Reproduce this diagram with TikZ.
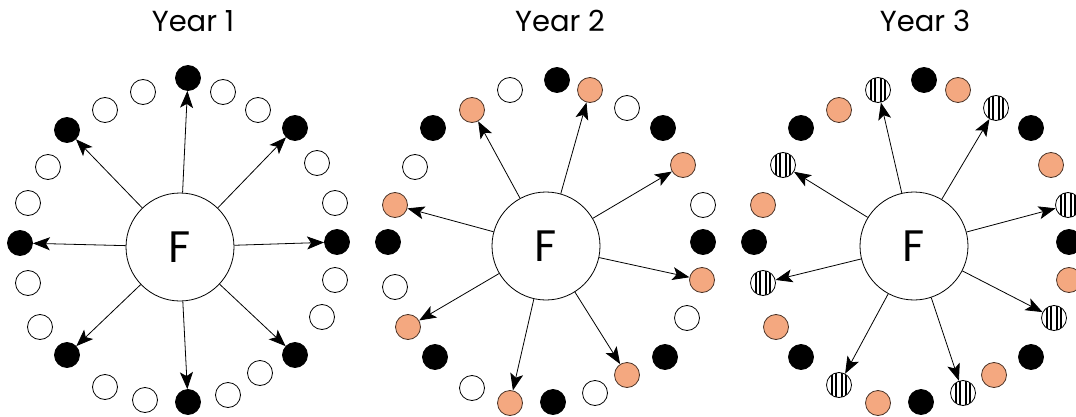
\documentclass[tikz,border=0pt]{standalone}
\usepackage{fontspec}
\setmainfont{Poppins}
\usetikzlibrary{arrows.meta}
\definecolor{salmon}{RGB}{244,168,128}
\tikzset{
  opencirc/.style={circle, draw=black, line width=0.8pt, fill=white, minimum size=25pt, inner sep=0pt},
  blkcirc/.style={opencirc, fill=black},
  orgcirc/.style={opencirc, fill=salmon, draw=black!70!salmon},
  strcirc/.style={opencirc, path picture={
      \foreach \d in {-7,-3,3,7}
        \draw[line width=1.5pt] ([xshift=\d pt]path picture bounding box.north) -- ([xshift=\d pt]path picture bounding box.south);}},
  fcirc/.style={circle, draw=black, line width=0.8pt, fill=white, minimum size=108pt, inner sep=0pt, font=\fontsize{44}{44}\selectfont},
  arr/.style={draw=black, line width=0.8pt, -{Stealth[length=17pt,width=13pt,inset=4pt]}},
  title/.style={font=\fontsize{29}{29}\selectfont, anchor=base}
}
\begin{document}
\begin{tikzpicture}[x=1pt,y=-1pt]
\useasboundingbox (0,0) rectangle (1076,417);
\clip (0,0) rectangle (1076,417);
\fill[white] (0,0) rectangle (1076,417);

\node[title] (t1) at (193,32) {Year 1};
\node[title] (t2) at (560,32) {Year 2};
\node[title] (t3) at (925,32) {Year 3};

% Panel 1
\node[fcirc] (F1) at (180,247) {F};
\foreach \n/\x/\y/\s in {1/188/78/blk,2/223/92/open,3/258/110/open,4/295/128/blk,5/317/163/open,6/335/203/open,7/337/242/blk,8/335/280/open,9/322/317/open,10/295/355/blk,11/260/373/open,12/228/395/open,13/188/402/blk,14/145/400/open,15/105/387/open,16/67/355/blk,17/40/327/open,18/28/283/open,19/20/243/blk,20/28/203/open,21/48/167/open,22/67/130/blk,23/105/110/open,24/143/92/open}
  \node[\s circ] (a\n) at (\x,\y) {};
\foreach \n in {1,4,7,10,13,16,19,22}
  \draw[arr] (F1) -- (a\n);

% Panel 2
\node[fcirc] (F2) at (546,246) {F};
\foreach \n/\x/\y/\s in {1/557/80/blk,2/590/90/org,3/627/108/open,4/663/128/blk,5/683/165/org,6/703/205/open,7/703/242/blk,8/702/280/org,9/687/318/open,10/665/357/blk,11/627/375/org,12/595/393/open,13/553/402/blk,14/510/403/org,15/472/388/open,16/435/357/blk,17/408/327/org,18/395/287/open,19/388/242/blk,20/395/205/org,21/415/167/open,22/433/128/blk,23/472/110/org,24/510/90/open}
  \node[\s circ] (b\n) at (\x,\y) {};
\foreach \n in {2,5,8,11,14,17,20,23}
  \draw[arr] (F2) -- (b\n);

% Panel 3
\node[fcirc] (F3) at (914,246) {F};
\foreach \n/\x/\y/\s in {1/924/80/blk,2/958/90/org,3/996/108/str,4/1031/128/blk,5/1051/165/org,6/1068/205/str,7/1069/242/blk,8/1069/280/org,9/1054/318/str,10/1031/357/blk,11/994/375/org,12/963/393/str,13/921/402/blk,14/878/403/org,15/839/385/str,16/801/357/blk,17/776/327/org,18/763/283/str,19/754/242/blk,20/763/205/org,21/783/165/str,22/801/128/blk,23/839/110/org,24/878/90/str}
  \node[\s circ] (c\n) at (\x,\y) {};
\foreach \n in {3,6,9,12,15,18,21,24}
  \draw[arr] (F3) -- (c\n);
\end{tikzpicture}
\end{document}
